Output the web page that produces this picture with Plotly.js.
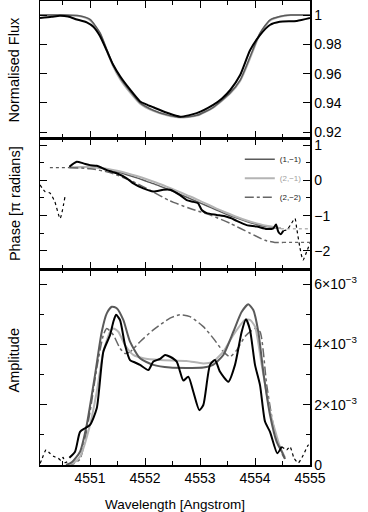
<!DOCTYPE html>
<html><head><meta charset="utf-8">
<script src="https://cdn.plot.ly/plotly-3.0.1.min.js"></script>
<style>html,body{margin:0;padding:0;background:#fff}#c{width:368px;height:512px}</style>
</head><body><div id="c"></div>
<script>
// ---------- Top panel: normalised flux ----------
var lamFluxObs = [4550.09,4550.30,4550.45,4550.60,4550.76,4550.94,4551.06,4551.18,4551.30,4551.42,4551.55,4551.73,4551.91,4552.02,4552.15,4552.40,4552.64,4552.94,4553.24,4553.40,4553.55,4553.73,4553.91,4554.09,4554.27,4554.45,4554.76,4555.00];
var fluxObs    = [0.998,0.9988,0.9995,0.999,0.997,0.995,0.992,0.9857,0.976,0.966,0.958,0.949,0.941,0.939,0.937,0.9333,0.9306,0.933,0.9386,0.943,0.9488,0.959,0.976,0.9863,0.9932,0.9954,0.996,0.998];
var lamFluxMod = [4550.09,4550.5,4550.8,4551.0,4551.18,4551.30,4551.42,4551.55,4551.73,4551.91,4552.15,4552.40,4552.64,4552.94,4553.24,4553.55,4553.73,4553.91,4554.09,4554.27,4554.45,4554.65,4555.0];
var fluxMod11  = [1.0,1.0,0.9995,0.997,0.988,0.977,0.966,0.957,0.948,0.940,0.935,0.9318,0.9302,0.9315,0.937,0.947,0.9556,0.9715,0.9877,0.9966,0.9990,1.0,1.0];
var fluxMod21  = [1.0,1.0,0.9993,0.9965,0.987,0.976,0.965,0.956,0.947,0.9395,0.9345,0.9315,0.930,0.9313,0.9368,0.9465,0.955,0.9705,0.9870,0.9962,0.9988,1.0,1.0];

// ---------- Middle panel: phase ----------
var lamPhaseObs = [4550.624,4550.758,4550.878,4551.0,4551.122,4551.304,4551.485,4551.667,4551.787,4551.969,4552.151,4552.333,4552.455,4552.636,4552.758,4552.878,4552.964,4553.031,4553.122,4553.304,4553.485,4553.576,4553.667,4553.849,4554.031,4554.213,4554.333,4554.382,4554.424,4554.467,4554.515];
var phaseObs    = [0.385,0.527,0.48,0.43,0.41,0.29,0.20,0.057,-0.085,-0.23,-0.32,-0.27,-0.27,-0.42,-0.56,-0.61,-0.65,-0.84,-0.93,-0.98,-1.03,-1.08,-1.15,-1.27,-1.31,-1.38,-1.36,-1.25,-1.46,-1.53,-1.43];
var lamPhaseObsL = [4550.09,4550.18,4550.27,4550.36,4550.455,4550.545];
var phaseObsL    = [-0.13,-0.32,-0.36,-0.61,-1.08,-0.46];
var lamPhaseObsR = [4554.515,4554.582,4554.667,4554.727,4554.758,4554.818,4554.873,4554.94,4555.0];
var phaseObsR    = [-1.43,-1.40,-1.21,-1.08,-1.36,-1.92,-2.26,-2.02,-1.78];
var lamPhaseMod = [4550.62,4550.9,4551.12,4551.3,4551.49,4551.67,4551.85,4552.03,4552.21,4552.39,4552.58,4552.76,4552.94,4553.12,4553.3,4553.48,4553.67,4553.85,4554.03,4554.21,4554.39,4554.47];
var phaseMod11  = [0.36,0.37,0.36,0.31,0.24,0.16,0.07,-0.03,-0.13,-0.24,-0.36,-0.48,-0.60,-0.72,-0.84,-0.96,-1.07,-1.17,-1.25,-1.31,-1.35,-1.36];
var phaseMod21  = [0.36,0.38,0.37,0.33,0.27,0.20,0.12,0.03,-0.07,-0.18,-0.30,-0.42,-0.54,-0.67,-0.80,-0.92,-1.04,-1.14,-1.22,-1.29,-1.34,-1.36];
var lamPhaseMod22 = [4550.62,4551.0,4551.36,4551.73,4552.09,4552.45,4552.82,4553.18,4553.55,4553.91,4554.18,4554.36,4554.51];
var phaseMod22    = [0.36,0.33,0.22,0.0,-0.28,-0.58,-0.80,-0.98,-1.22,-1.50,-1.70,-1.76,-1.76];
var lamPhaseExtL = [4550.27,4550.62];  var phaseExtL = [0.36,0.36];
var lamPhaseExtR = [4554.47,4555.0];   var phaseExtR = [-1.37,-1.37];
var lamPhaseExt22 = [4554.51,4555.0];  var phaseExt22 = [-1.76,-1.76];

// ---------- Bottom panel: amplitude (units of 1e-3) ----------
var lamAmpObs = [4550.624,4550.727,4550.818,4550.909,4551.0,4551.122,4551.242,4551.364,4551.424,4551.473,4551.545,4551.636,4551.727,4551.818,4551.909,4552.06,4552.151,4552.273,4552.364,4552.455,4552.576,4552.636,4552.696,4552.787,4552.878,4552.987,4553.06,4553.182,4553.273,4553.364,4553.515,4553.636,4553.758,4553.836,4553.909,4554.0,4554.091,4554.182,4554.273,4554.405,4554.485];
var ampObs    = [0.24,0.44,1.10,1.22,1.33,1.88,3.76,4.31,4.75,4.98,4.81,3.98,3.48,3.40,3.32,3.15,3.43,3.52,3.65,3.59,3.43,3.1,2.80,2.93,2.43,1.82,1.99,3.32,3.48,3.09,2.76,3.32,4.42,4.83,4.48,3.32,2.65,1.44,1.10,0.39,0.61];
var lamAmpObsL = [4550.09,4550.12,4550.20,4550.27,4550.345,4550.424,4550.47,4550.51,4550.545,4550.60];
var ampObsL    = [0.05,0.17,0.50,0.39,0.28,0.22,0.15,0.25,0.08,0.12];
var lamAmpObsR = [4554.485,4554.576,4554.636,4554.709,4554.787,4554.878,4554.969,4555.0];
var ampObsR    = [0.61,0.50,0.61,0.23,0.07,0.33,0.66,0.60];
var lamAmp11 = [4550.564,4550.673,4550.818,4550.94,4551.091,4551.213,4551.304,4551.395,4551.485,4551.605,4551.727,4551.909,4552.151,4552.455,4552.818,4553.06,4553.236,4553.424,4553.606,4553.758,4553.878,4553.969,4554.06,4554.151,4554.273,4554.394,4554.485,4554.545];
var amp11    = [0.0,0.1,0.44,1.33,2.99,4.42,5.03,5.25,5.2,4.81,4.09,3.54,3.32,3.23,3.22,3.23,3.32,3.65,4.42,5.08,5.33,5.14,4.42,3.09,1.66,0.77,0.45,0.2];
var lamAmp21 = [4550.564,4550.709,4550.818,4551.0,4551.122,4551.242,4551.364,4551.424,4551.515,4551.636,4551.787,4551.969,4552.273,4552.758,4553.06,4553.236,4553.424,4553.606,4553.818,4553.909,4554.0,4554.122,4554.273,4554.455,4554.545];
var amp21    = [0.0,0.08,0.28,1.33,2.43,3.76,4.42,4.53,4.42,3.98,3.65,3.54,3.48,3.45,3.37,3.43,3.76,4.31,4.81,4.81,4.59,3.32,1.77,0.6,0.25];
var lamAmp22 = [4550.564,4550.709,4550.818,4551.0,4551.122,4551.242,4551.304,4551.424,4551.545,4551.636,4551.727,4551.909,4552.151,4552.455,4552.636,4552.818,4553.06,4553.242,4553.424,4553.545,4553.667,4553.818,4554.0,4554.091,4554.213,4554.333,4554.455,4554.545];
var amp22    = [0.0,0.05,0.2,1.77,3.21,4.31,4.53,4.31,3.87,3.70,3.75,4.09,4.48,4.87,4.98,4.92,4.59,4.20,3.76,3.59,3.81,4.26,4.53,4.42,2.65,1.33,0.5,0.2];

var legendNames = ['(1,\u22121)', '(2,\u22121)', '(2,\u22122)'];
var ampTickVals = [0, 0.002, 0.004, 0.006];
var ampTickText = ['0', '2\u00d710<sup>\u22123</sup>', '4\u00d710<sup>\u22123</sup>', '6\u00d710<sup>\u22123</sup>'];
var fluxTickVals = [0.92, 0.94, 0.96, 0.98, 1];
var fluxTickText = ['0.92', '0.94', '0.96', '0.98', '1'];

var C_BLACK = '#000000', C_DARK = '#5a5a5a', C_LIGHT = '#b4b4b4', C_DD = '#666666';
function sc(a){ return a.map(function(v){ return v*1e-3; }); }
function tr(x, y, xa, ya, color, width, dash, name, show){
  return {x:x, y:y, xaxis:xa, yaxis:ya, type:'scatter', mode:'lines',
    line:{color:color, width:width, dash:dash||'solid', shape:'spline', smoothing:0.6},
    name:name||'', showlegend:!!show, hoverinfo:'skip'};
}
var data = [
  // top
  tr(lamFluxMod, fluxMod21, 'x3','y', C_LIGHT, 2),
  tr(lamFluxMod, fluxMod11, 'x3','y', C_DARK, 1.5),
  tr(lamFluxObs, fluxObs, 'x3','y', C_BLACK, 2),
  // middle
  tr(lamPhaseExtL, phaseExtL, 'x2','y2', C_DARK, 1.2, 'dot'),
  tr(lamPhaseExtR, phaseExtR, 'x2','y2', C_LIGHT, 1.5, 'dot'),
  tr(lamPhaseExt22, phaseExt22, 'x2','y2', C_DD, 1.2, 'dot'),
  tr(lamPhaseMod, phaseMod11, 'x2','y2', C_DARK, 1.5, 'solid', legendNames[0], true),
  tr(lamPhaseMod, phaseMod21, 'x2','y2', C_LIGHT, 2, 'solid', '<span style="color:#a0a0a0">'+legendNames[1]+'</span>', true),
  tr(lamPhaseMod22, phaseMod22, 'x2','y2', C_DD, 1.5, 'dashdot', legendNames[2], true),
  tr(lamPhaseObsL, phaseObsL, 'x2','y2', C_BLACK, 1.2, 'dot'),
  tr(lamPhaseObsR, phaseObsR, 'x2','y2', C_BLACK, 1.2, 'dot'),
  tr(lamPhaseObs, phaseObs, 'x2','y2', C_BLACK, 2),
  // bottom
  tr(lamAmp22, sc(amp22), 'x','y3', C_DD, 1.5, 'dashdot'),
  tr(lamAmp21, sc(amp21), 'x','y3', C_LIGHT, 2),
  tr(lamAmp11, sc(amp11), 'x','y3', C_DARK, 2),
  tr(lamAmpObsL, sc(ampObsL), 'x','y3', C_BLACK, 1.2, 'dot'),
  tr(lamAmpObsR, sc(ampObsR), 'x','y3', C_BLACK, 1.2, 'dot'),
  tr(lamAmpObs, sc(ampObs), 'x','y3', C_BLACK, 2)
];

var FONT = 'Liberation Sans, Arial, Helvetica, sans-serif';
var tf = {family:FONT, size:14, color:'#000'};
function xax(anchor, labels){
  var a = {anchor:anchor, domain:[0,1], range:[4550.09,4555], tick0:4551, dtick:1,
    ticks:'inside', ticklen:7, tickwidth:1, tickcolor:'#000',
    minor:{dtick:0.5, tick0:4550.5, ticks:'inside', ticklen:4, tickwidth:1, tickcolor:'#000', showgrid:false},
    showline:true, linecolor:'#000', linewidth:1.5, mirror:'ticks',
    showgrid:false, zeroline:false, showticklabels:labels, tickfont:tf};
  if (anchor !== 'y3') a.matches = 'x';
  return a;
}
function yax(anchor, domain, range){
  return {anchor:anchor, domain:domain, range:range, side:'right',
    ticks:'inside', ticklen:7, tickwidth:1, tickcolor:'#000',
    showline:true, linecolor:'#000', linewidth:1.5, mirror:'ticks',
    showgrid:false, zeroline:false, tickfont:tf};
}
var xa = xax('y3', true);
xa.title = {text:'Wavelength [Angstrom]', font:{family:FONT, size:13.5, color:'#000'}, standoff:16};
var y1 = yax('x3', [0.7047,1], [0.916,1.0096]);
y1.tickmode = 'array'; y1.tickvals = fluxTickVals; y1.ticktext = fluxTickText;
var y2 = yax('x2', [0.4224,0.7047], [-2.513,1.198]);
y2.tick0 = 0; y2.dtick = 1;
y2.minor = {dtick:0.5, tick0:0, ticks:'inside', ticklen:4, tickwidth:1, tickcolor:'#000', showgrid:false};
var y3 = yax('x', [0,0.4224], [0,0.0065]);
y3.tickmode = 'array'; y3.tickvals = ampTickVals; y3.ticktext = ampTickText;
y3.minor = {dtick:0.001, tick0:0, ticks:'inside', ticklen:4, tickwidth:1, tickcolor:'#000', showgrid:false};

var annFont = {family:FONT, size:14.5, color:'#000'};
var layout = {
  width:368, height:512,
  margin:{l:40, r:58, t:1, b:47, pad:0},
  paper_bgcolor:'#fff', plot_bgcolor:'#fff',
  font:{family:FONT, color:'#000'},
  showlegend:true,
  legend:{x:0.74, y:0.69, xanchor:'left', yanchor:'top', bgcolor:'rgba(0,0,0,0)',
    font:{family:FONT, size:8, color:'#222'}, itemwidth:30, tracegroupgap:0},
  xaxis:xa, xaxis2:xax('y2', false), xaxis3:xax('y', false),
  yaxis:y1, yaxis2:y2, yaxis3:y3,
  annotations:[
    {text:'Normalised Flux', xref:'paper', yref:'paper', x:-0.095, y:0.853, xanchor:'center', yanchor:'middle', textangle:-90, showarrow:false, font:annFont},
    {text:'Phase [\u03c0 radians]', xref:'paper', yref:'paper', x:-0.095, y:0.563, xanchor:'center', yanchor:'middle', textangle:-90, showarrow:false, font:annFont},
    {text:'Amplitude', xref:'paper', yref:'paper', x:-0.095, y:0.226, xanchor:'center', yanchor:'middle', textangle:-90, showarrow:false, font:annFont}
  ]
};
Plotly.newPlot('c', data, layout, {staticPlot:true, displayModeBar:false});
</script></body></html>
